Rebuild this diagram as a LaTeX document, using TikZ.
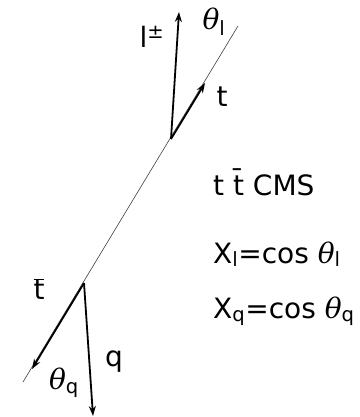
\documentclass[tikz,border=0pt]{standalone}
\usepackage{fontspec}
\setmainfont{DejaVu Sans}
\newfontfamily\thfont{DejaVu Serif}
\newcommand{\thsym}[1]{{\thfont\itshape θ}\textsubscript{#1}}
\usetikzlibrary{arrows.meta}
\begin{document}
\begin{tikzpicture}[x=1pt,y=-1pt,
  axisline/.style={line width=0.6pt, draw=black!75},
  vec/.style={line width=1.8pt, -{Stealth[length=10pt,width=7pt]}},
  lbl/.style={inner sep=0pt, font=\fontsize{28}{33}\selectfont},
  txt/.style={inner sep=0pt, anchor=base west, font=\fontsize{28}{33}\selectfont},
]
\useasboundingbox (0,0) rectangle (359,417);
\coordinate (top) at (238,26);
\coordinate (bot) at (23,382);
\coordinate (vt) at (171,139);
\coordinate (vb) at (84,283);
\coordinate (tt) at (205,83);
\coordinate (lt) at (179,12);
\coordinate (tb) at (32,369);
\coordinate (qt) at (93,416);
\draw[axisline] (bot) -- (top);
\draw[vec] (vt) -- (tt);
\draw[vec] (vt) -- (lt);
\draw[vec] (vb) -- (tb);
\draw[vec] (vb) -- (qt);
\node[lbl] (lpm) at (152,37) {l\textsuperscript{±}};
\node[lbl] (thl) at (214,22) {\thsym{l}};
\node[lbl] (tlab) at (222,97) {t};
\node[lbl] (tbar) at (39,289) {$\overline{\mathrm{t}}$};
\node[lbl] (qlab) at (114,362) {q};
\node[lbl] (thq) at (64,383) {\thsym{q}};
\node[txt] (cms) at (213,195) {t \=t CMS};
\node[txt] (xl) at (213,263) {X\textsubscript{l}=cos \thsym{l}};
\node[txt] (xq) at (213,318) {X\textsubscript{q}=cos \thsym{q}};
\end{tikzpicture}
\end{document}
